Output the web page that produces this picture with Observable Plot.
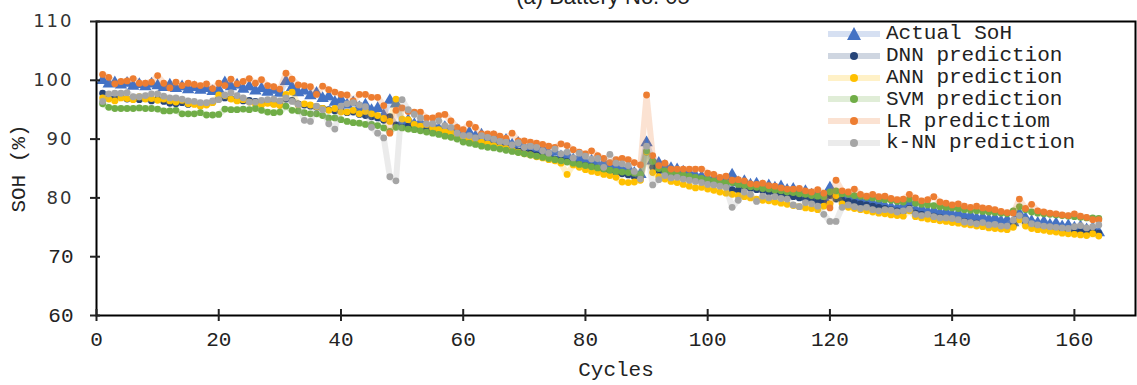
<!DOCTYPE html>
<html>
<head>
<meta charset="utf-8">
<script src="https://cdn.jsdelivr.net/npm/d3@7"></script>
<script src="https://cdn.jsdelivr.net/npm/@observablehq/plot@0.6"></script>
<style>
  html, body { margin: 0; padding: 0; background: #fff; overflow: hidden; }
  #wrap { position: relative; width: 1137px; height: 385px; }
  #title { position: absolute; left: 603px; top: -15px; transform: translateX(-50%);
           font-family: "Liberation Sans", Arial, sans-serif; font-size: 22px; color: #222; white-space: nowrap; line-height: 24px; }
  #legend { position: absolute; left: 828px; top: 23px; font-family: "Liberation Mono", monospace; font-size: 21px; color: #222; }
  .row { display: flex; align-items: center; height: 21.8px; }
  .row svg { flex: none; margin-right: 6px; }
</style>
</head>
<body>
<div id="wrap">
  <div id="chart"></div>
  <div id="title">(a) Battery No. 05</div>
  <div id="legend"></div>
</div>
<script>
const seriesNames = ["Actual SoH", "DNN prediction", "ANN prediction", "SVM prediction", "LR predictiom", "k-NN prediction"];
const seriesColors = ["#4472C4", "#264478", "#FFC000", "#70AD47", "#ED7D31", "#A5A5A5"];
const xTicks = [0, 20, 40, 60, 80, 100, 120, 140, 160];
const yTicks = [60, 70, 80, 90, 100, 110];

const actualSoH = [
100.0,99.4,99.6,99.2,99.5,99.0,99.3,98.9,99.4,99.1,
98.8,99.2,98.6,98.9,98.4,98.8,98.3,98.6,98.1,98.4,
99.6,98.9,99.2,98.5,98.9,98.2,98.6,98.0,98.3,97.8,
99.8,98.8,97.9,98.2,97.4,97.8,96.9,97.2,96.3,96.7,
95.8,96.2,95.4,95.8,94.9,95.2,94.0,96.6,96.0,92.8,
93.2,92.5,92.8,92.1,92.4,91.7,92.0,91.2,91.5,90.8,
91.1,90.4,90.7,89.9,90.3,89.5,89.8,89.0,89.3,88.5,
88.8,88.0,88.3,87.5,87.8,87.0,87.3,86.5,86.8,86.0,
86.3,85.6,85.9,85.2,85.5,84.8,85.0,84.2,84.0,89.4,
86.3,85.9,85.4,85.0,84.8,84.4,84.2,83.8,83.6,83.1,
83.4,82.8,83.0,83.9,82.6,82.8,82.2,82.4,81.9,82.1,
81.7,81.9,81.3,81.5,80.9,81.1,80.5,80.7,80.0,81.7,
80.5,80.1,79.8,79.9,79.4,79.5,79.0,79.1,78.6,78.4,
78.3,78.5,79.2,77.9,78.1,77.6,77.8,77.4,77.6,77.1,
77.3,76.8,77.0,76.5,76.7,76.3,76.5,76.0,76.2,75.8,
77.3,76.5,76.0,75.7,75.9,75.4,75.6,75.1,75.3,74.9,
75.1,74.6,74.8,74.1];

const dnnPred = [
97.8,97.0,96.9,97.2,96.8,97.0,96.7,96.9,96.5,96.8,
96.4,96.1,96.0,96.2,95.9,96.1,95.8,96.0,96.3,96.9,
97.0,96.9,96.7,96.5,96.6,96.4,96.3,96.2,96.0,95.9,
96.8,96.6,96.0,95.8,95.6,95.4,95.2,95.0,94.8,94.9,
94.5,94.6,94.2,94.0,93.8,93.6,93.2,93.8,92.4,92.0,
92.2,91.9,91.6,91.5,91.2,91.0,90.8,90.5,90.3,90.0,
89.8,89.6,89.4,89.1,88.9,88.7,88.5,88.2,88.0,87.8,
87.6,87.3,87.1,86.9,86.6,86.4,86.2,85.9,85.7,85.5,
85.3,85.0,84.8,84.6,84.3,84.1,83.9,83.6,83.5,87.8,
85.2,84.6,84.3,84.0,83.8,83.6,83.3,83.1,82.9,82.6,
82.5,82.2,82.0,81.4,81.3,81.9,81.6,81.4,81.2,81.0,
80.8,80.6,80.4,80.2,80.0,79.8,79.6,79.4,79.2,80.4,
79.8,79.6,79.4,79.2,79.0,78.8,78.6,78.4,78.2,78.0,
77.8,77.6,78.2,77.4,77.2,77.0,76.9,76.7,76.5,76.3,
76.2,76.0,75.8,75.7,75.5,75.3,75.2,75.0,74.9,75.3,
76.4,75.8,75.4,75.2,75.0,74.9,74.7,74.6,74.4,74.3,
74.2,74.1,74.4,74.0];

const annPred = [
97.0,96.8,96.5,97.0,96.9,96.7,97.2,96.8,96.9,96.6,
96.8,96.5,96.3,96.6,96.0,95.9,95.6,95.8,96.2,97.5,
97.4,96.8,96.5,96.7,96.3,96.0,95.8,96.1,95.9,95.7,
97.6,98.0,95.8,96.0,95.8,95.5,95.2,94.9,95.2,94.6,
94.6,94.9,94.3,94.7,94.3,94.0,93.5,93.0,96.8,93.4,
93.3,92.5,92.2,92.5,91.8,91.6,91.3,91.1,90.6,90.3,
90.0,89.7,89.5,89.2,88.9,88.6,88.4,88.1,87.8,87.5,
87.3,87.0,86.8,86.5,86.3,85.9,84.0,85.6,85.2,84.8,
84.5,84.3,84.0,83.8,83.5,82.7,82.6,82.7,83.0,87.8,
84.3,83.6,83.2,82.8,82.6,82.3,82.0,81.7,81.8,81.5,
81.3,81.0,80.8,80.6,80.4,80.2,80.0,79.8,79.6,79.5,
79.3,79.1,78.9,78.7,78.5,78.3,78.2,78.0,78.6,79.0,
80.4,79.0,78.4,78.2,78.0,77.8,77.6,77.4,77.3,77.1,
77.0,76.9,77.8,76.8,76.6,76.4,76.3,76.1,76.0,75.8,
75.7,75.5,75.4,75.2,75.1,74.9,74.8,74.7,74.6,75.0,
76.3,75.2,74.8,74.6,74.5,74.3,74.2,74.0,73.9,73.8,
73.7,73.6,73.9,73.5];

const svmPred = [
96.0,95.4,95.2,95.2,95.2,95.2,95.3,95.2,95.2,95.1,
94.8,94.8,94.9,94.3,94.3,94.3,94.5,94.1,94.1,94.2,
95.1,95.0,95.0,95.1,95.0,95.2,94.9,94.6,94.5,94.6,
95.6,94.9,94.8,94.5,94.3,94.3,94.0,93.6,93.6,93.3,
93.0,92.8,92.7,92.5,92.5,92.3,91.9,91.3,92.0,91.9,
91.7,91.6,91.4,91.2,91.0,90.8,90.5,90.3,90.0,89.5,
89.3,89.1,88.8,88.6,88.5,88.3,88.1,87.9,87.7,87.5,
87.3,87.1,86.9,86.7,86.5,86.3,86.1,85.9,85.7,85.5,
85.3,85.1,84.9,84.7,84.5,84.4,84.3,84.2,84.0,88.0,
86.2,85.0,84.6,84.3,84.1,83.9,83.7,83.5,83.3,83.1,
82.9,82.7,82.6,82.6,82.3,82.1,81.9,81.8,81.6,81.5,
81.3,81.2,81.0,80.9,80.7,80.6,80.4,80.3,80.2,81.0,
81.2,80.7,80.6,80.4,80.3,80.1,80.0,79.8,79.7,79.6,
79.4,79.3,79.8,79.1,78.9,78.8,78.7,78.5,78.4,78.3,
78.2,78.0,77.9,77.8,77.7,77.6,77.5,77.4,77.3,77.8,
78.5,78.0,77.6,77.4,77.3,77.2,77.1,77.0,76.9,76.8,
76.7,76.6,76.6,76.5];

const lrPred = [
101.0,100.5,99.4,99.8,99.9,100.3,99.5,99.5,99.7,100.8,
99.5,98.7,99.7,99.1,99.5,99.3,99.1,99.4,98.6,99.5,
99.1,100.2,99.4,99.8,100.3,99.5,100.1,99.1,98.9,98.5,
101.2,100.2,99.2,99.1,98.9,97.6,99.0,98.4,98.0,97.6,
97.5,96.5,97.6,97.6,97.1,97.1,95.7,91.0,94.9,95.3,
94.7,94.6,94.6,93.6,93.6,94.0,94.2,93.1,92.0,91.6,
92.6,92.0,90.9,90.9,90.9,90.5,90.1,91.0,89.7,89.7,
89.5,89.3,89.1,88.8,88.6,89.2,88.9,88.2,87.8,87.5,
88.0,87.2,86.7,86.0,86.5,86.7,86.5,86.0,85.6,97.5,
87.2,85.5,85.9,84.9,84.9,84.9,84.9,84.9,84.9,84.2,
84.0,83.5,83.7,83.0,83.1,82.9,82.4,82.3,82.5,82.1,
82.0,81.7,81.5,81.5,81.6,81.2,81.0,81.4,80.8,78.3,
83.0,81.2,81.0,81.5,80.6,80.3,80.6,80.2,80.3,79.9,
79.7,79.8,80.6,80.0,79.5,79.7,80.2,79.3,79.1,78.8,
79.0,78.6,78.4,78.6,78.3,78.2,78.0,77.7,77.5,77.4,
79.8,78.2,78.9,77.8,77.6,77.4,77.3,77.1,77.0,77.3,
76.9,76.7,76.3,76.3];

const knnPred = [
96.4,97.7,97.8,97.8,97.9,97.2,97.2,97.4,97.7,97.7,
97.3,97.0,97.0,96.8,96.5,96.4,96.2,96.2,96.5,96.7,
97.5,97.9,97.4,97.0,96.3,96.3,96.6,96.7,96.8,96.5,
97.0,96.4,95.9,93.2,93.0,95.6,95.0,92.6,91.7,95.6,
96.0,96.2,95.8,95.5,92.0,91.0,90.2,83.6,82.9,96.7,
95.0,94.2,93.6,92.6,92.6,93.1,92.3,92.0,91.0,90.6,
90.6,90.2,90.6,90.3,90.0,89.6,89.5,89.0,89.4,88.6,
88.8,88.6,88.0,87.6,88.3,87.5,87.8,86.8,87.6,87.1,
86.6,86.7,85.2,87.4,85.9,85.8,85.5,84.5,83.2,88.8,
82.2,83.1,83.8,83.4,83.5,83.2,83.0,82.8,82.6,82.3,
82.2,82.0,81.8,78.4,79.6,81.0,80.6,79.4,80.3,80.0,
80.2,79.9,79.8,78.8,78.5,79.2,79.0,78.6,77.2,76.0,
76.0,78.4,78.8,78.5,78.2,78.4,78.0,77.8,78.0,77.9,
77.6,77.8,78.1,77.2,77.0,77.2,76.8,76.6,76.6,76.5,
76.3,75.9,75.8,75.6,75.8,75.4,75.5,75.2,75.2,76.2,
77.0,76.2,75.6,75.4,75.2,75.1,75.0,74.9,74.8,75.1,
75.3,74.9,75.1,75.4];

const seriesValues = [actualSoH, dnnPred, annPred, svmPred, lrPred, knnPred];
const series = seriesNames.map((name, i) => ({
  name, color: seriesColors[i], symbol: i === 0 ? "triangle" : "circle",
  rows: seriesValues[i].map((v, j) => ({cycle: j + 1, soh: v}))
}));

const marks = [];
for (const s of series) {
  marks.push(Plot.line(s.rows, {x: "cycle", y: "soh", stroke: s.color, strokeOpacity: 0.22, strokeWidth: 6, strokeLinejoin: "round"}));
  marks.push(Plot.dot(s.rows, {x: "cycle", y: "soh", fill: s.color, stroke: "none", symbol: s.symbol, r: s.symbol === "triangle" ? 4.6 : 3.4}));
}
marks.push(Plot.frame({stroke: "#000", strokeWidth: 2}));
marks.push(Plot.axisX({ticks: xTicks, tickSize: 6, tickPadding: 10, strokeWidth: 2, label: "Cycles", labelAnchor: "center", labelOffset: 60, labelArrow: "none"}));
marks.push(Plot.axisX({ticks: xTicks, tickSize: -6, strokeWidth: 2, tickFormat: () => "", label: null}));
marks.push(Plot.axisY({ticks: yTicks, tickSize: 6, tickPadding: 17, strokeWidth: 2, label: "SOH (%)", labelAnchor: "center", labelOffset: 86, labelArrow: "none"}));
marks.push(Plot.axisY({ticks: yTicks, tickSize: -4, strokeWidth: 2, tickFormat: () => "", label: null}));

const chart = Plot.plot({
  width: 1137, height: 385,
  marginLeft: 96, marginRight: 2, marginTop: 21, marginBottom: 70,
  x: {domain: [0, 170]},
  y: {domain: [60, 110]},
  style: {fontFamily: "'Liberation Mono', monospace", fontSize: "21px", color: "#222", background: "#fff", overflow: "visible"},
  marks
});
document.getElementById("chart").appendChild(chart);

// y tick labels 80..110 appear in a sans face in the reference
chart.querySelectorAll('[aria-label="y-axis tick label"] text').forEach(t => {
  const v = +t.textContent;
  if (v >= 80) { t.setAttribute("font-family", "'DejaVu Sans', sans-serif"); t.setAttribute("font-size", "18px"); t.setAttribute("letter-spacing", "2px"); t.setAttribute("fill", "#333"); }
});

// legend
const legend = document.getElementById("legend");
for (const s of series) {
  const row = document.createElement("div");
  row.className = "row";
  const sym = s.symbol === "triangle"
    ? `<path d="M26,4 L33,17 L19,17 Z" fill="${s.color}"/>`
    : `<circle cx="26" cy="11" r="4" fill="${s.color}"/>`;
  row.innerHTML = `<svg width="52" height="22"><line x1="0" x2="52" y1="11" y2="11" stroke="${s.color}" stroke-opacity="0.22" stroke-width="6"/>${sym}</svg><span>${s.name}</span>`;
  legend.appendChild(row);
}
</script>
</body>
</html>
